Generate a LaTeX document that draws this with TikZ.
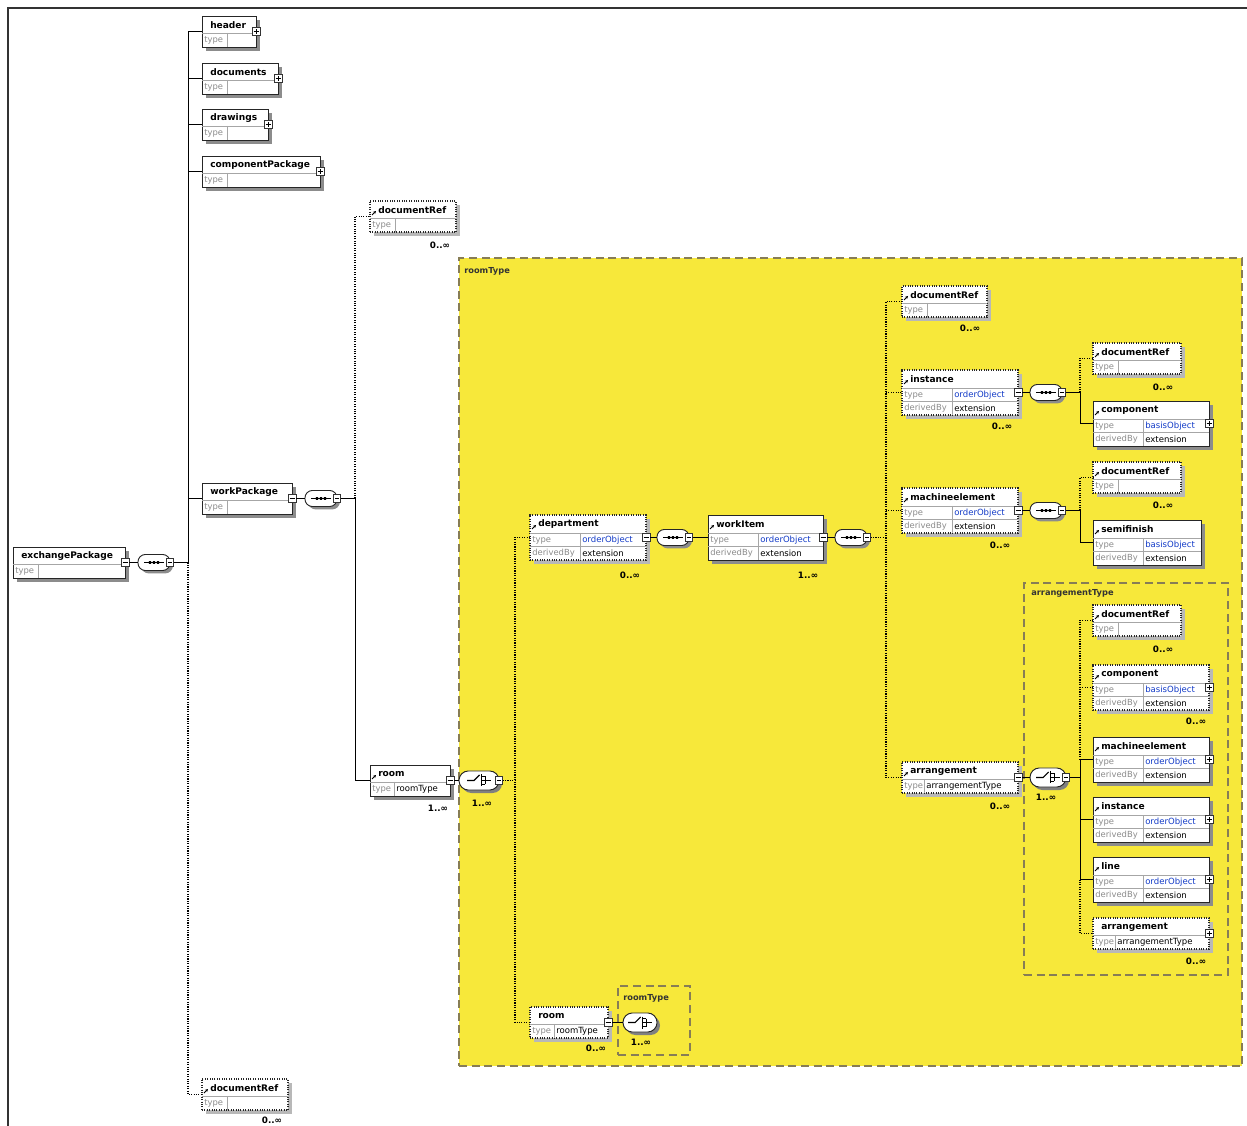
\documentclass[tikz,border=0pt]{standalone}
\usepackage{fontspec}
\setmainfont{DejaVu Sans}
\usetikzlibrary{arrows.meta}
\definecolor{yell}{RGB}{247,232,58}
\definecolor{dashc}{RGB}{135,125,85}
\definecolor{valblue}{RGB}{20,60,200}
\definecolor{lblgray}{RGB}{140,140,140}
\tikzset{
 x=0.75pt, y=-0.75pt,
 reqbox/.style={draw=black!85, fill=white, line width=0.7pt, inner sep=0, outer sep=0},
 optbox/.style={draw=black!85, fill=white, line width=0.8pt, densely dotted, inner sep=0, outer sep=0},
 reqboxshadow/.style={fill=black!45},
 optboxshadow/.style={fill=black!28},
 rowsep/.style={draw=black!35, line width=0.4pt},
 nametxt/.style={anchor=west, inner sep=0, font=\fontsize{6.8}{7}\selectfont\bfseries},
 typetxt/.style={anchor=west, inner sep=0, font=\fontsize{6.3}{7}\selectfont, text=lblgray},
 valtxt/.style={anchor=west, inner sep=0, font=\fontsize{6.4}{7}\selectfont},
 multxt/.style={anchor=center, inner sep=0, font=\fontsize{6.6}{7}\selectfont\bfseries},
 ctlabel/.style={anchor=west, inner sep=0, font=\fontsize{6.2}{7}\selectfont\bfseries, text=black!80},
 container/.style={draw=dashc, dash pattern=on 6pt off 3.5pt, line width=0.9pt, anchor=north west, inner sep=0, outer sep=0},
 conn/.style={line width=0.7pt, black},
 optconn/.style={line width=0.8pt, black, densely dotted},
 btn/.style={draw=black!80, fill=white, line width=0.5pt, minimum size=6pt, inner sep=0, outer sep=0},
 pill/.style={draw=black!85, fill=white, line width=0.7pt, rounded corners=5.5pt, inner sep=0, outer sep=0},
}
% two-row element: id, x, y, width, style, name, type-column width, value
\newcommand\eltwo[8]{%
 \fill[#5shadow] (#2+4,#3+4) rectangle (#2+#4+4,#3+35);
 \node[#5, minimum width=#4*0.75pt, minimum height=23.25pt, anchor=north west] (#1) at (#2,#3) {};
 \draw[rowsep] (#2,#3+17) -- (#2+#4,#3+17) (#2+#7,#3+17) -- (#2+#7,#3+31);
 \node[nametxt] (#1-n) at (#2+8,#3+9) {#6};
 \node[typetxt] (#1-t) at (#2+2,#3+24.5) {type};
 \node[valtxt] (#1-v) at (#2+#7+2,#3+24.5) {#8};
}
% three-row element: id, x, y, width, style, name, value, value colour
\newcommand\elthree[8]{%
 \fill[#5shadow] (#2+4,#3+4) rectangle (#2+#4+4,#3+49);
 \node[#5, minimum width=#4*0.75pt, minimum height=33.75pt, anchor=north west] (#1) at (#2,#3) {};
 \draw[rowsep] (#2,#3+18) -- (#2+#4,#3+18) (#2,#3+31.5) -- (#2+#4,#3+31.5) (#2+50,#3+18) -- (#2+50,#3+45);
 \node[nametxt] (#1-n) at (#2+8,#3+9) {#6};
 \node[typetxt] (#1-t) at (#2+2,#3+25) {type};
 \node[typetxt] (#1-d) at (#2+2,#3+38.5) {derivedBy};
 \node[valtxt, text=#8] (#1-v) at (#2+52,#3+25) {#7};
 \node[valtxt] (#1-e) at (#2+52,#3+38.5) {extension};
}
\newcommand\bminus[2]{\node[btn] (#1) at (#2) {}; \draw[line width=0.5pt] (#1.center) ++(-2.5,0) -- ++(5,0);}
\newcommand\bplus[2]{\node[btn] (#1) at (#2) {}; \draw[line width=0.5pt] (#1.center) ++(-2.5,0) -- ++(5,0) (#1.center) ++(0,-2.5) -- ++(0,5);}
\newcommand\seqc[3]{%
 \fill[black!45, rounded corners=6pt] (#2-16+3,#3-8+3) rectangle (#2+16+3,#3+8+3);
 \node[pill, minimum width=24pt, minimum height=12pt] (#1) at (#2,#3) {};
 \draw[line width=0.8pt] (#2-10,#3) -- (#2+10,#3);
 \fill (#2-5.2,#3-1.3) rectangle (#2-2.8,#3+1.3) (#2-1.2,#3-1.3) rectangle (#2+1.2,#3+1.3) (#2+2.8,#3-1.3) rectangle (#2+5.2,#3+1.3);
 \node[btn, minimum size=5.5pt] (#1-b) at (#1.east) {};
 \draw[line width=0.4pt] (#1-b.center) ++(-2,0) -- ++(4,0);
}
\newcommand\chc[4]{%
 \fill[black!50, rounded corners=7pt] (#2-#4/2+3,#3-9.5+3) rectangle (#2+#4/2+3,#3+9.5+3);
 \node[pill, rounded corners=7pt, minimum width=#4*0.75pt, minimum height=14.25pt] (#1) at (#2,#3) {};
 \draw[line width=0.8pt] (#2-12,#3) -- (#2-5,#3) -- (#2+0.5,#3-5.5);
 \draw[line width=0.7pt] (#2+2,#3-6) -- (#2+2,#3+6) (#2+2,#3-4) -- (#2+6,#3-4) (#2+2,#3) -- (#2+12,#3) (#2+2,#3+4) -- (#2+6,#3+4) (#2+6,#3-4) -- (#2+6,#3+4);
}
\newcommand\chcsq[4]{\chc{#1}{#2}{#3}{#4}\node[btn, minimum size=5.5pt] (#1-b) at (#1.east) {}; \draw[line width=0.4pt] (#1-b.center) ++(-2,0) -- ++(4,0);}
\newcommand\mkr[2]{\draw[line width=0.6pt,-{Stealth[length=2.2pt,width=2.2pt]}] (#1+2,#2+14) -- (#1+6,#2+10);}
\newcommand\mult[4]{\node[multxt] (#1) at (#2,#3) {#4};}

\begin{document}
\begin{tikzpicture}
\useasboundingbox (0,0) rectangle (1247,1126);
\draw[line width=1pt, black!80] (8,1126) -- (8,8) -- (1247,8);

% containers
\node[container, fill=yell, minimum width=587.25pt, minimum height=606pt] (rt) at (459,258) {};
\node[ctlabel] (rt-l) at (464,271) {roomType};
\node[container, minimum width=153pt, minimum height=294pt] (atype) at (1024,583) {};
\node[ctlabel] (atype-l) at (1031,593) {arrangementType};
\node[container, minimum width=54pt, minimum height=51.75pt] (rt2) at (618,986) {};
\node[ctlabel] (rt2-l) at (623,998) {roomType};

% level 1
\eltwo{ex}{13}{547}{112}{reqbox}{exchangePackage}{25}{}
\bminus{ex-b}{ex.east}
\seqc{sA}{154}{562.5}

% level 2
\eltwo{hdr}{202}{16}{54}{reqbox}{header}{25}{}\bplus{hdr-b}{hdr.east}
\eltwo{docs}{202}{63}{76}{reqbox}{documents}{25}{}\bplus{docs-b}{docs.east}
\eltwo{drw}{202}{109}{66}{reqbox}{drawings}{25}{}\bplus{drw-b}{drw.east}
\eltwo{cpk}{202}{156}{118}{reqbox}{componentPackage}{25}{}\bplus{cpk-b}{cpk.east}
\eltwo{wpk}{202}{483}{90}{reqbox}{workPackage}{25}{}\bminus{wpk-b}{wpk.east}
\eltwo{dref1}{202}{1079}{86}{optbox}{documentRef}{25}{}\mkr{202}{1079}
\mult{m-dref1}{272}{1120}{0..∞}
\seqc{sB}{321}{498.5}

% level 3
\eltwo{dref2}{370}{201}{86}{optbox}{documentRef}{25}{}\mkr{370}{201}
\mult{m-dref2}{440}{245}{0..∞}
\eltwo{room1}{370}{765}{80}{reqbox}{room}{24}{roomType}\mkr{370}{765}
\bminus{room1-b}{room1.east}
\mult{m-room1}{438}{808}{1..∞}
\chcsq{chA}{479}{780.5}{40}
\mult{m-chA}{482}{803}{1..∞}

% roomType content
\elthree{dept}{530}{515}{116}{optbox}{department}{orderObject}{valblue}\mkr{530}{515}
\bminus{dept-b}{dept.east}
\mult{m-dept}{630}{575}{0..∞}
\seqc{sC}{673}{537.5}
\elthree{witem}{708}{515}{115}{reqbox}{workItem}{orderObject}{valblue}\mkr{708}{515}
\bminus{witem-b}{witem.east}
\mult{m-witem}{808}{575}{1..∞}
\seqc{sD}{851}{537.5}

\eltwo{dref3}{902}{286}{85}{optbox}{documentRef}{25}{}\mkr{902}{286}
\mult{m-dref3}{970}{328}{0..∞}

\elthree{inst1}{902}{370}{116}{optbox}{instance}{orderObject}{valblue}\mkr{902}{370}
\bminus{inst1-b}{inst1.east}
\mult{m-inst1}{1002}{426}{0..∞}
\seqc{sE}{1046}{392.5}
\eltwo{dref4}{1093}{343}{88}{optbox}{documentRef}{25}{}\mkr{1093}{343}
\mult{m-dref4}{1163}{387}{0..∞}
\elthree{comp1}{1093}{401}{116}{reqbox}{component}{basisObject}{valblue}\mkr{1093}{401}
\bplus{comp1-b}{comp1.east}

\elthree{mach1}{902}{488}{116}{optbox}{machineelement}{orderObject}{valblue}\mkr{902}{488}
\bminus{mach1-b}{mach1.east}
\mult{m-mach1}{1000}{545}{0..∞}
\seqc{sF}{1046}{510.5}
\eltwo{dref5}{1093}{462}{88}{optbox}{documentRef}{25}{}\mkr{1093}{462}
\mult{m-dref5}{1163}{505}{0..∞}
\elthree{semi}{1093}{520}{108}{reqbox}{semifinish}{basisObject}{valblue}\mkr{1093}{520}

\eltwo{arr1}{902}{762}{116}{optbox}{arrangement}{22}{arrangementType}\mkr{902}{762}
\bminus{arr1-b}{arr1.east}
\mult{m-arr1}{1000}{806}{0..∞}
\chcsq{chB}{1048}{777.5}{36}
\mult{m-chB}{1046}{797}{1..∞}

\eltwo{dref6}{1093}{605}{88}{optbox}{documentRef}{25}{}\mkr{1093}{605}
\mult{m-dref6}{1163}{649}{0..∞}
\elthree{comp2}{1093}{665}{116}{optbox}{component}{basisObject}{valblue}\mkr{1093}{665}
\bplus{comp2-b}{comp2.east}
\mult{m-comp2}{1196}{721}{0..∞}
\elthree{mach2}{1093}{737}{116}{reqbox}{machineelement}{orderObject}{valblue}\mkr{1093}{737}
\bplus{mach2-b}{mach2.east}
\elthree{inst2}{1093}{797}{116}{reqbox}{instance}{orderObject}{valblue}\mkr{1093}{797}
\bplus{inst2-b}{inst2.east}
\elthree{ln}{1093}{857}{116}{reqbox}{line}{orderObject}{valblue}\mkr{1093}{857}
\bplus{ln-b}{ln.east}
\eltwo{arr2}{1093}{918}{116}{optbox}{arrangement}{22}{arrangementType}
\bplus{arr2-b}{arr2.east}
\mult{m-arr2}{1196}{961}{0..∞}

\eltwo{room2}{530}{1007}{78}{optbox}{room}{24}{roomType}
\bminus{room2-b}{room2.east}
\mult{m-room2}{596}{1048}{0..∞}
\chc{chC}{640}{1022.5}{34}
\mult{m-chC}{641}{1042}{1..∞}

% connectors level 1
\coordinate (bus1) at (188,562.5);
\draw[conn] (ex-b.east) -- (sA.west);
\draw[conn] (sA-b.east) -- (bus1);
\draw[conn] (bus1) -- (bus1 |- hdr.west);
\draw[optconn] (bus1) -- (bus1 |- dref1.west) -- (dref1.west);
\foreach \n in {hdr,docs,drw,cpk,wpk} {\draw[conn] (bus1 |- \n.west) -- (\n.west);}

% level 2
\coordinate (bus2) at (355,498.5);
\draw[conn] (wpk-b.east) -- (sB.west);
\draw[conn] (sB-b.east) -- (bus2);
\draw[optconn] (bus2) -- (bus2 |- dref2.west) -- (dref2.west);
\draw[conn] (bus2) -- (bus2 |- room1.west) -- (room1.west);

% level 3
\coordinate (bus3) at (515,780.5);
\draw[conn] (room1-b.east) -- (chA.west);
\draw[optconn] (chA-b.east) -- (bus3);
\draw[optconn] (dept.west) -- (bus3 |- dept.west) -- (bus3 |- room2.west) -- (room2.west);
\draw[conn] (dept-b.east) -- (sC.west);
\draw[conn] (sC-b.east) -- (witem.west);
\draw[conn] (witem-b.east) -- (sD.west);
\coordinate (bus4) at (886,537.5);
\draw[optconn] (sD-b.east) -- (bus4);
\draw[optconn] (dref3.west) -- (bus4 |- dref3.west) -- (bus4 |- arr1.west) -- (arr1.west);
\draw[optconn] (bus4 |- inst1.west) -- (inst1.west);
\draw[optconn] (bus4 |- mach1.west) -- (mach1.west);

% instance
\coordinate (bus5) at (1080,392.5);
\draw[conn] (inst1-b.east) -- (sE.west);
\draw[conn] (sE-b.east) -- (bus5);
\draw[optconn] (bus5) -- (bus5 |- dref4.west) -- (dref4.west);
\draw[conn] (bus5) -- (bus5 |- comp1.west) -- (comp1.west);

% machineelement
\coordinate (bus6) at (1080,510.5);
\draw[conn] (mach1-b.east) -- (sF.west);
\draw[conn] (sF-b.east) -- (bus6);
\draw[optconn] (bus6) -- (bus6 |- dref5.west) -- (dref5.west);
\draw[conn] (bus6) -- (bus6 |- semi.west) -- (semi.west);

% arrangement
\coordinate (bus7) at (1080,777.5);
\draw[conn] (arr1-b.east) -- (chB.west);
\draw[conn] (chB-b.east) -- (bus7);
\draw[optconn] (dref6.west) -- (bus7 |- dref6.west) -- (bus7 |- mach2.west);
\draw[optconn] (bus7 |- comp2.west) -- (comp2.west);
\draw[conn] (mach2.west) -- (bus7 |- mach2.west) -- (bus7 |- ln.west) -- (ln.west);
\draw[conn] (bus7 |- inst2.west) -- (inst2.west);
\draw[optconn] (bus7 |- ln.west) -- (bus7 |- arr2.west) -- (arr2.west);

% room (recursive)
\draw[conn] (room2-b.east) -- (chC.west);
\end{tikzpicture}
\end{document}
